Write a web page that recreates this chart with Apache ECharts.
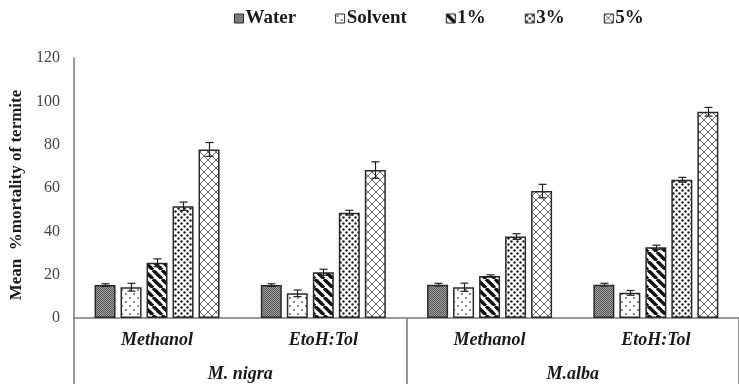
<!DOCTYPE html>
<html>
<head>
<meta charset="utf-8">
<script src="https://cdn.jsdelivr.net/npm/echarts@6/dist/echarts.min.js"></script>
<style>
  html, body { margin: 0; padding: 0; background: #fff; }
  #chart { width: 739px; height: 384px; }
</style>
</head>
<body>
<div id="chart"></div>
<script>
// Extract (first level) and plant species (second level) categories
const extracts = ['Methanol', 'EtoH:Tol', 'Methanol', 'EtoH:Tol'];
const species = ['M. nigra', 'M.alba'];
const seriesNames = ['Water', 'Solvent', '1%', '3%', '5%'];

// Mean % mortality per treatment
const water   = [15.2, 15.2, 15.4, 15.4];
const solvent = [14.2, 11.4, 14.2, 11.6];
const conc1   = [25.5, 21.1, 19.4, 32.6];
const conc3   = [51.6, 48.6, 37.6, 63.8];
const conc5   = [77.8, 68.3, 58.6, 95.2];

// Standard errors
const waterErr   = [0.6, 0.6, 0.6, 0.6];
const solventErr = [1.8, 1.5, 1.9, 1.1];
const conc1Err   = [1.8, 1.4, 0.5, 1.0];
const conc3Err   = [1.9, 1.1, 1.3, 1.1];
const conc5Err   = [3.2, 3.8, 3.1, 2.0];

// Value axis ticks
const yTicks = [0, 20, 40, 60, 80, 100, 120];

const values = [water, solvent, conc1, conc3, conc5];
const errors = [waterErr, solventErr, conc1Err, conc3Err, conc5Err];

const SERIF = '"Liberation Serif", "Times New Roman", serif';
const BAR_W = 21;
const BAR_GAP = 5;

// Tiled fills for the bars
function tile(size, draw) {
  const c = document.createElement('canvas');
  c.width = size; c.height = size;
  const ctx = c.getContext('2d');
  draw(ctx, size);
  return { image: c, repeat: 'repeat' };
}

const fills = [
  // Water: fine grey stipple
  tile(4, (ctx, s) => {
    ctx.fillStyle = '#a0a0a0'; ctx.fillRect(0, 0, s, s);
    ctx.fillStyle = '#585858';
    for (let y = 0; y < s; y++) for (let x = 0; x < s; x++)
      if ((x + y) % 2 === 0) ctx.fillRect(x, y, 1, 1);
  }),
  // Solvent: sparse light dots
  tile(8, (ctx, s) => {
    ctx.fillStyle = '#fff'; ctx.fillRect(0, 0, s, s);
    ctx.fillStyle = '#8a8a8a';
    ctx.fillRect(1, 1, 2, 2);
    ctx.fillRect(5, 5, 2, 2);
  }),
  // 1%: heavy diagonal stripes
  tile(9, (ctx, s) => {
    ctx.fillStyle = '#fff'; ctx.fillRect(0, 0, s, s);
    ctx.strokeStyle = '#111'; ctx.lineWidth = 3.4;
    for (const k of [-s, 0, s]) {
      ctx.beginPath(); ctx.moveTo(k, 0); ctx.lineTo(k + s, s); ctx.stroke();
    }
  }),
  // 3%: dense dots
  tile(6, (ctx, s) => {
    ctx.fillStyle = '#fff'; ctx.fillRect(0, 0, s, s);
    ctx.fillStyle = '#1c1c1c';
    ctx.beginPath(); ctx.arc(1.5, 1.5, 1.2, 0, Math.PI * 2); ctx.fill();
    ctx.beginPath(); ctx.arc(4.5, 4.5, 1.2, 0, Math.PI * 2); ctx.fill();
  }),
  // 5%: diamond cross-hatch
  tile(8, (ctx, s) => {
    ctx.fillStyle = '#fff'; ctx.fillRect(0, 0, s, s);
    ctx.strokeStyle = '#6a6a6a'; ctx.lineWidth = 1;
    ctx.beginPath(); ctx.moveTo(0, 0); ctx.lineTo(s, s); ctx.stroke();
    ctx.beginPath(); ctx.moveTo(s, 0); ctx.lineTo(0, s); ctx.stroke();
  })
];

const barSeries = seriesNames.map((name, i) => ({
  name,
  type: 'bar',
  xAxisIndex: 0,
  yAxisIndex: 0,
  barWidth: BAR_W,
  barGap: (BAR_GAP / BAR_W * 100).toFixed(1) + '%',
  itemStyle: { color: fills[i], borderColor: '#2a2a2a', borderWidth: 1.5 },
  data: values[i]
}));

const errorSeries = seriesNames.map((name, i) => ({
  name: name + ' SE',
  type: 'custom',
  xAxisIndex: 0,
  yAxisIndex: 0,
  z: 5,
  data: values[i].map((v, c) => [c, v - errors[i][c], v + errors[i][c]]),
  renderItem(params, api) {
    const c = api.value(0);
    const lo = api.coord([c, api.value(1)]);
    const hi = api.coord([c, api.value(2)]);
    const x = Math.round(lo[0] + (i - 2) * (BAR_W + BAR_GAP)) + 0.5;
    const cap = 4;
    const st = { stroke: '#222', lineWidth: 1.2 };
    return {
      type: 'group',
      children: [
        { type: 'line', shape: { x1: x, y1: hi[1], x2: x, y2: lo[1] }, style: st },
        { type: 'line', shape: { x1: x - cap, y1: hi[1], x2: x + cap, y2: hi[1] }, style: st },
        { type: 'line', shape: { x1: x - cap, y1: lo[1], x2: x + cap, y2: lo[1] }, style: st }
      ]
    };
  }
}));

const chart = echarts.init(document.getElementById('chart'), null, { renderer: 'canvas' });
chart.setOption({
  animation: false,
  backgroundColor: '#fff',
  legend: {
    data: seriesNames,
    top: 4,
    left: 229,
    icon: 'rect',
    itemWidth: 9,
    itemHeight: 9,
    itemGap: 39,
    textStyle: { fontFamily: SERIF, fontWeight: 'bold', fontSize: 19, color: '#1a1a1a', padding: [0, 0, 0, -3] },
    itemStyle: { borderColor: '#2a2a2a', borderWidth: 1 }
  },
  grid: { left: 73, right: -2, top: 58, bottom: 66, containLabel: false },
  xAxis: [
    {
      type: 'category',
      data: extracts,
      position: 'bottom',
      axisLine: { lineStyle: { color: '#7a7a7a', width: 1.5 } },
      axisTick: { show: false },
      axisLabel: { margin: 13, fontFamily: SERIF, fontStyle: 'italic', fontWeight: 'bold', fontSize: 18, color: '#1a1a1a' }
    },
    {
      type: 'category',
      data: species,
      position: 'bottom',
      axisLine: { show: false },
      axisTick: { show: true, length: 70, lineStyle: { color: '#7a7a7a', width: 1.5 } },
      axisLabel: { margin: 47, fontFamily: SERIF, fontStyle: 'italic', fontWeight: 'bold', fontSize: 18, color: '#1a1a1a' }
    }
  ],
  yAxis: {
    type: 'value',
    min: yTicks[0],
    max: yTicks[yTicks.length - 1],
    interval: yTicks[1] - yTicks[0],
    name: 'Mean  %mortality of termite',
    nameLocation: 'middle',
    nameGap: 46,
    nameTextStyle: { fontFamily: SERIF, fontWeight: 'bold', fontSize: 17, color: '#1a1a1a', padding: [0, 14, 0, 0] },
    axisLine: { show: true, lineStyle: { color: '#7a7a7a', width: 1.5 } },
    axisTick: { show: false },
    splitLine: { show: false },
    axisLabel: { margin: 14, fontFamily: SERIF, fontSize: 16, color: '#444' }
  },
  series: [...barSeries, ...errorSeries]
});
</script>
</body>
</html>
